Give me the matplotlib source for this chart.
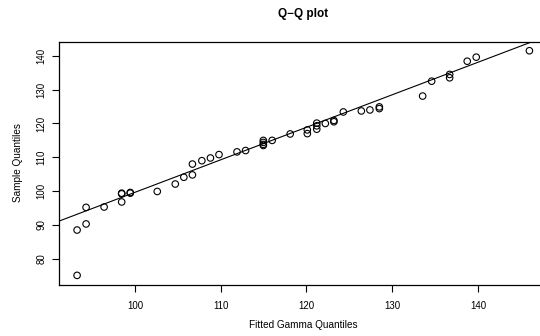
import matplotlib
matplotlib.use("Agg")
import matplotlib.pyplot as plt

# Data
fitted_q = [93.25, 93.25, 94.3, 94.3, 96.4, 98.45, 98.45, 98.45, 99.45, 99.45,
            102.6, 104.7, 105.7, 106.7, 106.7, 107.8, 108.8, 109.8, 111.9, 112.9,
            114.97, 114.97, 114.97, 114.97, 116.0, 118.1, 120.1, 120.1, 121.2, 121.2,
            121.2, 122.2, 123.2, 123.2, 124.3, 126.4, 127.4, 128.5, 128.5, 133.55,
            134.6, 136.7, 136.7, 138.75, 139.8, 146.0]
sample_q = [75.1, 88.5, 90.3, 95.2, 95.3, 96.8, 99.2, 99.4, 99.4, 99.6,
            99.9, 102.1, 104.1, 104.8, 108.0, 109.0, 109.8, 110.8, 111.6, 112.0,
            113.5, 113.8, 114.4, 115.0, 115.0, 116.9, 117.0, 118.1, 118.3, 119.3,
            120.1, 120.0, 120.5, 120.9, 123.4, 123.7, 124.0, 124.4, 124.9, 128.1,
            132.5, 133.5, 134.5, 138.4, 139.6, 141.5]
line_intercept = 3.55
line_slope = 0.961
x_ticks = [100, 110, 120, 130, 140]
y_ticks = [80, 90, 100, 110, 120, 130, 140]

plt.rcParams['font.family'] = ['Liberation Sans', 'DejaVu Sans']

W, H = 540, 336
fig = plt.figure(figsize=(W / 100, H / 100), dpi=100)
ax = fig.add_axes([59 / W, (H - 284.5) / H, 488.4 / W, 242.9 / H])

ax.scatter(fitted_q, sample_q, s=22, facecolors='none', edgecolors='black',
           linewidths=0.8, zorder=3)
ax.axline((0, line_intercept), slope=line_slope, color='black', lw=0.8, zorder=2)

ax.set_xlim(91.14, 148.1)
ax.set_ylim(72.4, 144.2)
ax.set_xticks(x_ticks)
ax.set_yticks(y_ticks)
ax.tick_params(axis='both', direction='out', length=5, width=0.8, labelsize=7.0)
ax.tick_params(axis='x', pad=7)
ax.tick_params(axis='y', pad=4)
for lab in ax.get_yticklabels():
    lab.set_rotation(90)
    lab.set_va('center')
for s in ax.spines.values():
    s.set_linewidth(0.9)

ax.set_xlabel('Fitted Gamma Quantiles', fontsize=7.2, labelpad=6)
ax.set_ylabel('Sample Quantiles', fontsize=7.2, labelpad=10)
fig.text(303 / W, 1 - 14 / H, 'Q\u2212Q plot', ha='center', va='center',
         fontsize=8.5, fontweight='bold')

fig.savefig('out.png', dpi=100)
